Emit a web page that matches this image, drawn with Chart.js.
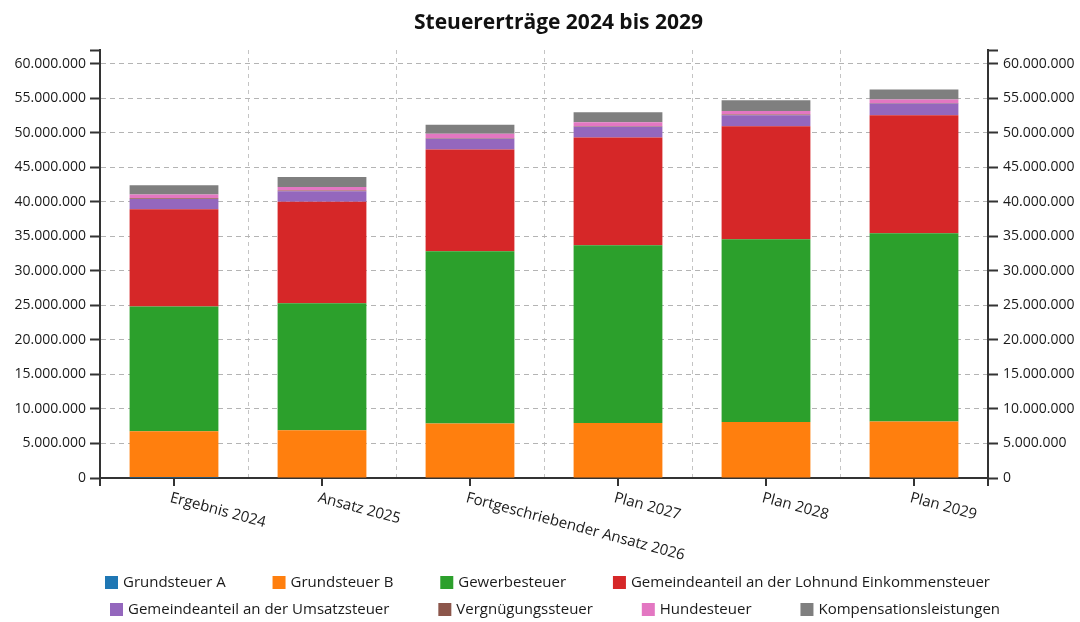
<!DOCTYPE html>
<html><head><meta charset="utf-8">
<script src="https://cdn.jsdelivr.net/npm/chart.js@4/dist/chart.umd.min.js"></script>
<style>html,body{margin:0;padding:0;background:#fff}canvas{display:block}</style>
</head><body>
<canvas id="c" width="1080" height="622"></canvas>
<script>
const chartTitle = 'Steuererträge 2024 bis 2029';
const categories = ['Ergebnis 2024', 'Ansatz 2025', 'Fortgeschriebender Ansatz 2026', 'Plan 2027', 'Plan 2028', 'Plan 2029'];
const grundsteuerA = [150000, 60000, 60000, 60000, 60000, 60000];
const grundsteuerB = [6620000, 6850000, 7820000, 7910000, 8060000, 8140000];
const gewerbesteuer = [18080000, 18390000, 24970000, 25730000, 26480000, 27250000];
const einkommensteuer = [14090000, 14700000, 14750000, 15630000, 16370000, 17110000];
const umsatzsteuer = [1490000, 1550000, 1550000, 1540000, 1590000, 1700000];
const vergnuegungssteuer = [100000, 80000, 80000, 80000, 80000, 80000];
const hundesteuer = [540000, 540000, 640000, 600000, 540000, 500000];
const kompensation = [1350000, 1450000, 1300000, 1450000, 1550000, 1450000];
const seriesNames = ['Grundsteuer A', 'Grundsteuer B', 'Gewerbesteuer', 'Gemeindeanteil an der Lohnund Einkommensteuer', 'Gemeindeanteil an der Umsatzsteuer', 'Vergnügungssteuer', 'Hundesteuer', 'Kompensationsleistungen'];
const seriesColors = ['#1f77b4', '#ff7f0e', '#2ca02c', '#d62728', '#9467bd', '#8c564b', '#e377c2', '#7f7f7f'];
const seriesValues = [grundsteuerA, grundsteuerB, gewerbesteuer, einkommensteuer, umsatzsteuer, vergnuegungssteuer, hundesteuer, kompensation];
const yTickValues = [0, 5000000, 10000000, 15000000, 20000000, 25000000, 30000000, 35000000, 40000000, 45000000, 50000000, 55000000, 60000000];
const AXIS_MAX = 62000000;

function fmt(v) { return String(Math.round(v)).replace(/\B(?=(\d{3})+(?!\d))/g, '.'); }

Chart.defaults.font.family = "'Open Sans', 'DejaVu Sans', sans-serif";
Chart.defaults.font.size = 14;
Chart.defaults.color = '#1a1a1a';

const overlay = {
  id: 'overlay',
  afterDraw(chart) {
    const ctx = chart.ctx;
    const xs = chart.scales.x;
    const area = chart.chartArea;
    ctx.save();
    // title
    ctx.font = "bold 21px 'Open Sans'";
    ctx.fillStyle = '#111';
    ctx.textAlign = 'center';
    ctx.textBaseline = 'middle';
    ctx.fillText(chartTitle, 558.5, 23);
    // x tick marks
    ctx.setLineDash([]);
    ctx.strokeStyle = '#333';
    ctx.lineWidth = 2;
    ctx.beginPath();
    categories.forEach((c, i) => {
      const x = Math.round(xs.getPixelForValue(i));
      ctx.moveTo(x, area.bottom); ctx.lineTo(x, area.bottom + 8);
    });
    ctx.moveTo(Math.round(area.left), area.bottom); ctx.lineTo(Math.round(area.left), area.bottom + 8);
    ctx.moveTo(Math.round(area.right), area.bottom); ctx.lineTo(Math.round(area.right), area.bottom + 8);
    ctx.stroke();
    // rotated category labels
    ctx.font = "15px 'Open Sans'";
    ctx.fillStyle = '#1a1a1a';
    ctx.textAlign = 'left';
    ctx.textBaseline = 'alphabetic';
    categories.forEach((c, i) => {
      const x = xs.getPixelForValue(i);
      ctx.save();
      ctx.translate(x - 2, area.bottom + 13);
      ctx.rotate(15 * Math.PI / 180);
      ctx.fillText(c, 0, 11);
      ctx.restore();
    });
    // legend
    const ds = chart.data.datasets;
    const rows = [[0, 1, 2, 3], [4, 5, 6, 7]];
    const spec = [{x0: 105, x1: 990, y: 583}, {x0: 110, x1: 1000, y: 610}];
    ctx.textBaseline = 'middle';
    rows.forEach((r, ri) => {
      const items = r.map(i => ({i, w: 13 + 5 + ctx.measureText(ds[i].label).width}));
      const sum = items.reduce((a, b) => a + b.w, 0);
      const gap = (spec[ri].x1 - spec[ri].x0 - sum) / (items.length - 1);
      let x = spec[ri].x0;
      items.forEach(it => {
        ctx.fillStyle = ds[it.i].backgroundColor;
        ctx.fillRect(x, spec[ri].y - 7, 13, 13);
        ctx.fillStyle = '#1a1a1a';
        ctx.fillText(ds[it.i].label, x + 18, spec[ri].y);
        x += it.w + gap;
      });
    });
    ctx.restore();
  }
};

const setTicks = s => { s.ticks = yTickValues.map(v => ({value: v})).concat([{value: AXIS_MAX}]); };
const yTicks = {
  color: '#1a1a1a',
  font: {size: 14},
  autoSkip: false,
  callback: v => (v === AXIS_MAX ? '' : fmt(v))
};

new Chart(document.getElementById('c'), {
  type: 'bar',
  data: {
    labels: categories,
    datasets: seriesNames.map((n, i) => ({
      label: n,
      data: seriesValues[i],
      backgroundColor: seriesColors[i],
      borderWidth: 0,
      barPercentage: 0.6,
      categoryPercentage: 1.0
    }))
  },
  options: {
    responsive: false,
    animation: false,
    layout: {padding: {left: 0, right: 0, top: 50, bottom: 0}},
    plugins: {
      legend: {display: false},
      tooltip: {enabled: false},
      title: {display: false}
    },
    scales: {
      x: {
        stacked: true,
        ticks: {display: false},
        grid: {offset: true, color: '#c4c4c4', drawTicks: false, lineWidth: 1},
        border: {color: '#333', width: 2, dash: [4, 4]},
        afterFit: s => { s.height = 144; }
      },
      y: {
        position: 'left',
        stacked: true,
        min: 0,
        max: AXIS_MAX,
        ticks: Object.assign({padding: 4}, yTicks),
        afterBuildTicks: setTicks,
        grid: {
          color: c => (c.tick && c.tick.value === AXIS_MAX ? 'rgba(0,0,0,0)' : '#b4b4b4'),
          tickColor: '#333', tickLength: 10, tickWidth: 2, lineWidth: 1
        },
        border: {color: '#333', width: 2, dash: [5, 4]},
        afterFit: s => { s.width = 100; }
      },
      y2: {
        position: 'right',
        min: 0,
        max: AXIS_MAX,
        ticks: Object.assign({padding: 5}, yTicks),
        afterBuildTicks: setTicks,
        grid: {drawOnChartArea: false, tickColor: '#333', tickLength: 10, tickWidth: 2},
        border: {color: '#333', width: 2},
        afterFit: s => { s.width = 92; }
      }
    }
  },
  plugins: [overlay]
});
</script>
</body></html>
